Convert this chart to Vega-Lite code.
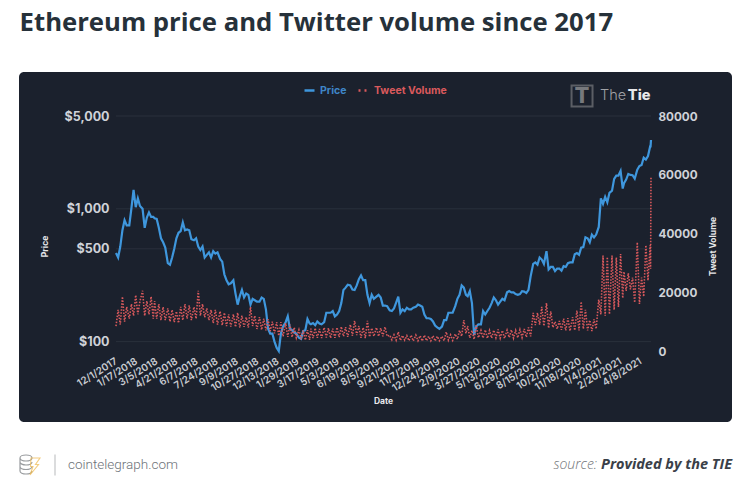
{
"$schema":"https://vega.github.io/schema/vega-lite/v6.json",
"background":"#ffffff",
"padding":{"left":17,"top":10,"right":20,"bottom":0},
"title":{"text":"Ethereum price and Twitter volume since 2017","anchor":"start","dx":2,"font":"Open Sans","fontSize":25.7,"fontWeight":700,"color":"#26313a","offset":35},
"spacing":23,
"config":{"view":{"stroke":null}},
"datasets":{
"grid":[{"d":"2017-12-01","e":"2021-05-03","p":100},{"d":"2017-12-01","e":"2021-05-03","p":500},{"d":"2017-12-01","e":"2021-05-03","p":1000},{"d":"2017-12-01","e":"2021-05-03","p":5000}],
"series":[
{"d":"2017-12-01","p":465,"v":8500},{"d":"2017-12-06","p":430,"v":14000},{"d":"2017-12-11","p":520,"v":9000},{"d":"2017-12-16","p":690,"v":18500},{"d":"2017-12-21","p":820,"v":10000},{"d":"2017-12-26","p":750,"v":15000},
{"d":"2018-01-01","p":750,"v":11000},{"d":"2018-01-06","p":1010,"v":16000},{"d":"2018-01-11","p":1390,"v":12000},{"d":"2018-01-16","p":1030,"v":19000},{"d":"2018-01-21","p":1200,"v":12500},{"d":"2018-01-26","p":1050,"v":17000},
{"d":"2018-02-01","p":1000,"v":20500},{"d":"2018-02-06","p":720,"v":12000},{"d":"2018-02-11","p":860,"v":17000},{"d":"2018-02-16","p":940,"v":12500},{"d":"2018-02-21","p":870,"v":18500},{"d":"2018-02-26","p":870,"v":11000},
{"d":"2018-03-01","p":850,"v":17000},{"d":"2018-03-06","p":840,"v":11000},{"d":"2018-03-11","p":720,"v":16000},{"d":"2018-03-16","p":600,"v":10500},{"d":"2018-03-21","p":560,"v":15000},{"d":"2018-03-26","p":510,"v":10500},
{"d":"2018-04-01","p":390,"v":14500},{"d":"2018-04-06","p":380,"v":10000},{"d":"2018-04-11","p":430,"v":14000},{"d":"2018-04-16","p":500,"v":9800},{"d":"2018-04-21","p":600,"v":13500},{"d":"2018-04-26","p":660,"v":9500},
{"d":"2018-05-01","p":680,"v":15000},{"d":"2018-05-06","p":790,"v":10500},{"d":"2018-05-11","p":690,"v":16000},{"d":"2018-05-16","p":700,"v":11000},{"d":"2018-05-21","p":690,"v":15500},{"d":"2018-05-26","p":590,"v":10500},
{"d":"2018-06-01","p":580,"v":15000},{"d":"2018-06-06","p":600,"v":11000},{"d":"2018-06-11","p":520,"v":20500},{"d":"2018-06-16","p":490,"v":12000},{"d":"2018-06-21","p":520,"v":16000},{"d":"2018-06-26","p":430,"v":11500},
{"d":"2018-07-01","p":450,"v":14500},{"d":"2018-07-06","p":470,"v":10500},{"d":"2018-07-11","p":430,"v":14000},{"d":"2018-07-16","p":480,"v":9500},{"d":"2018-07-21","p":460,"v":14000},{"d":"2018-07-26","p":470,"v":9000},
{"d":"2018-08-01","p":420,"v":13500},{"d":"2018-08-06","p":400,"v":8800},{"d":"2018-08-11","p":320,"v":13000},{"d":"2018-08-16","p":290,"v":8500},{"d":"2018-08-21","p":270,"v":12500},{"d":"2018-08-26","p":275,"v":8300},
{"d":"2018-09-01","p":290,"v":12500},{"d":"2018-09-06","p":230,"v":8200},{"d":"2018-09-11","p":190,"v":13000},{"d":"2018-09-16","p":220,"v":8000},{"d":"2018-09-21","p":245,"v":12000},{"d":"2018-09-26","p":215,"v":8200},
{"d":"2018-10-01","p":230,"v":11500},{"d":"2018-10-06","p":225,"v":8000},{"d":"2018-10-11","p":190,"v":15000},{"d":"2018-10-16","p":210,"v":8500},{"d":"2018-10-21","p":205,"v":12000},{"d":"2018-10-26","p":200,"v":7500},
{"d":"2018-11-01","p":200,"v":11500},{"d":"2018-11-06","p":215,"v":7200},{"d":"2018-11-11","p":210,"v":11000},{"d":"2018-11-16","p":175,"v":7000},{"d":"2018-11-21","p":125,"v":10800},{"d":"2018-11-26","p":115,"v":6800},
{"d":"2018-12-01","p":115,"v":10000},{"d":"2018-12-06","p":100,"v":6000},{"d":"2018-12-11","p":90,"v":9800},{"d":"2018-12-16","p":85,"v":5200},{"d":"2018-12-21","p":115,"v":9800},{"d":"2018-12-26","p":130,"v":5000},
{"d":"2019-01-01","p":140,"v":9500},{"d":"2019-01-06","p":155,"v":4800},{"d":"2019-01-11","p":125,"v":9000},{"d":"2019-01-16","p":122,"v":4700},{"d":"2019-01-21","p":117,"v":8000},{"d":"2019-01-26","p":115,"v":4500},
{"d":"2019-02-01","p":107,"v":7200},{"d":"2019-02-06","p":105,"v":4000},{"d":"2019-02-11","p":120,"v":7000},{"d":"2019-02-16","p":122,"v":3700},{"d":"2019-02-21","p":148,"v":7100},{"d":"2019-02-26","p":137,"v":3800},
{"d":"2019-03-01","p":135,"v":7600},{"d":"2019-03-06","p":138,"v":4400},{"d":"2019-03-11","p":133,"v":7800},{"d":"2019-03-16","p":142,"v":4500},{"d":"2019-03-21","p":137,"v":7500},{"d":"2019-03-26","p":135,"v":4400},
{"d":"2019-04-01","p":140,"v":8000},{"d":"2019-04-06","p":165,"v":4600},{"d":"2019-04-11","p":165,"v":7800},{"d":"2019-04-16","p":165,"v":4400},{"d":"2019-04-21","p":170,"v":7600},{"d":"2019-04-26","p":155,"v":4500},
{"d":"2019-05-01","p":160,"v":8000},{"d":"2019-05-06","p":170,"v":4700},{"d":"2019-05-11","p":195,"v":8300},{"d":"2019-05-16","p":245,"v":5000},{"d":"2019-05-21","p":255,"v":8100},{"d":"2019-05-26","p":268,"v":4800},
{"d":"2019-06-01","p":265,"v":9000},{"d":"2019-06-06","p":247,"v":5200},{"d":"2019-06-11","p":245,"v":10300},{"d":"2019-06-16","p":265,"v":5400},{"d":"2019-06-21","p":295,"v":8500},{"d":"2019-06-26","p":315,"v":4500},
{"d":"2019-07-01","p":290,"v":8000},{"d":"2019-07-06","p":290,"v":4400},{"d":"2019-07-11","p":225,"v":10300},{"d":"2019-07-16","p":195,"v":4800},{"d":"2019-07-21","p":225,"v":7800},{"d":"2019-07-26","p":210,"v":5000},
{"d":"2019-08-01","p":218,"v":8000},{"d":"2019-08-06","p":225,"v":5000},{"d":"2019-08-11","p":215,"v":7800},{"d":"2019-08-16","p":187,"v":5000},{"d":"2019-08-21","p":187,"v":8200},{"d":"2019-08-26","p":185,"v":5000},
{"d":"2019-09-01","p":172,"v":5400},{"d":"2019-09-06","p":170,"v":3800},{"d":"2019-09-11","p":178,"v":5500},{"d":"2019-09-16","p":197,"v":3700},{"d":"2019-09-21","p":218,"v":6500},{"d":"2019-09-26","p":165,"v":3600},
{"d":"2019-10-01","p":175,"v":5300},{"d":"2019-10-06","p":170,"v":3700},{"d":"2019-10-11","p":180,"v":5200},{"d":"2019-10-16","p":175,"v":3500},{"d":"2019-10-21","p":175,"v":5400},{"d":"2019-10-26","p":180,"v":3400},
{"d":"2019-11-01","p":183,"v":5400},{"d":"2019-11-06","p":190,"v":3500},{"d":"2019-11-11","p":187,"v":5200},{"d":"2019-11-16","p":183,"v":3400},{"d":"2019-11-21","p":160,"v":5400},{"d":"2019-11-26","p":150,"v":3500},
{"d":"2019-12-01","p":150,"v":5000},{"d":"2019-12-06","p":148,"v":3500},{"d":"2019-12-11","p":142,"v":5200},{"d":"2019-12-16","p":132,"v":3400},{"d":"2019-12-21","p":128,"v":5000},{"d":"2019-12-26","p":125,"v":3500},
{"d":"2020-01-01","p":130,"v":5000},{"d":"2020-01-06","p":145,"v":3500},{"d":"2020-01-11","p":145,"v":6500},{"d":"2020-01-16","p":165,"v":3700},{"d":"2020-01-21","p":165,"v":5500},{"d":"2020-01-26","p":165,"v":3600},
{"d":"2020-02-01","p":185,"v":5800},{"d":"2020-02-06","p":210,"v":4000},{"d":"2020-02-11","p":225,"v":7000},{"d":"2020-02-16","p":265,"v":5000},{"d":"2020-02-21","p":255,"v":10500},{"d":"2020-02-26","p":225,"v":6000},
{"d":"2020-03-01","p":220,"v":8500},{"d":"2020-03-06","p":240,"v":4500},{"d":"2020-03-11","p":195,"v":7000},{"d":"2020-03-16","p":112,"v":4000},{"d":"2020-03-21","p":130,"v":8800},{"d":"2020-03-26","p":135,"v":4500},
{"d":"2020-04-01","p":135,"v":7000},{"d":"2020-04-06","p":170,"v":4400},{"d":"2020-04-11","p":160,"v":7200},{"d":"2020-04-16","p":170,"v":4300},{"d":"2020-04-21","p":180,"v":7000},{"d":"2020-04-26","p":195,"v":4400},
{"d":"2020-05-01","p":215,"v":7100},{"d":"2020-05-06","p":205,"v":4500},{"d":"2020-05-11","p":190,"v":7300},{"d":"2020-05-16","p":200,"v":4400},{"d":"2020-05-21","p":210,"v":7000},{"d":"2020-05-26","p":205,"v":4300},
{"d":"2020-06-01","p":235,"v":7100},{"d":"2020-06-06","p":240,"v":4600},{"d":"2020-06-11","p":235,"v":7200},{"d":"2020-06-16","p":235,"v":4400},{"d":"2020-06-21","p":228,"v":7000},{"d":"2020-06-26","p":225,"v":4500},
{"d":"2020-07-01","p":228,"v":7300},{"d":"2020-07-06","p":240,"v":4600},{"d":"2020-07-11","p":238,"v":7500},{"d":"2020-07-16","p":232,"v":4700},{"d":"2020-07-21","p":245,"v":8000},{"d":"2020-07-26","p":310,"v":5000},
{"d":"2020-08-01","p":385,"v":13000},{"d":"2020-08-06","p":395,"v":8800},{"d":"2020-08-11","p":380,"v":13000},{"d":"2020-08-16","p":430,"v":9000},{"d":"2020-08-21","p":415,"v":15000},{"d":"2020-08-26","p":385,"v":8500},
{"d":"2020-09-01","p":480,"v":16300},{"d":"2020-09-06","p":350,"v":7800},{"d":"2020-09-11","p":365,"v":13500},{"d":"2020-09-16","p":365,"v":8000},{"d":"2020-09-21","p":340,"v":10000},{"d":"2020-09-26","p":355,"v":7500},
{"d":"2020-10-01","p":355,"v":10200},{"d":"2020-10-06","p":342,"v":7200},{"d":"2020-10-11","p":370,"v":11000},{"d":"2020-10-16","p":365,"v":7000},{"d":"2020-10-21","p":390,"v":11200},{"d":"2020-10-26","p":395,"v":6800},
{"d":"2020-11-01","p":395,"v":11500},{"d":"2020-11-06","p":455,"v":7000},{"d":"2020-11-11","p":465,"v":13800},{"d":"2020-11-16","p":450,"v":7000},{"d":"2020-11-21","p":510,"v":16800},{"d":"2020-11-26","p":515,"v":7500},
{"d":"2020-12-01","p":610,"v":14000},{"d":"2020-12-06","p":600,"v":7000},{"d":"2020-12-11","p":560,"v":10500},{"d":"2020-12-16","p":640,"v":6800},{"d":"2020-12-21","p":610,"v":10800},{"d":"2020-12-26","p":640,"v":7500},
{"d":"2021-01-01","p":730,"v":17500},{"d":"2021-01-06","p":1200,"v":12500},{"d":"2021-01-11","p":1090,"v":32500},{"d":"2021-01-16","p":1230,"v":12000},{"d":"2021-01-21","p":1120,"v":32000},{"d":"2021-01-26","p":1320,"v":12500},
{"d":"2021-02-01","p":1370,"v":32500},{"d":"2021-02-06","p":1680,"v":14000},{"d":"2021-02-11","p":1780,"v":31800},{"d":"2021-02-16","p":1780,"v":15000},{"d":"2021-02-21","p":1930,"v":33000},{"d":"2021-02-26","p":1420,"v":18000},
{"d":"2021-03-01","p":1560,"v":27000},{"d":"2021-03-06","p":1660,"v":20500},{"d":"2021-03-11","p":1830,"v":26500},{"d":"2021-03-16","p":1800,"v":21000},{"d":"2021-03-21","p":1790,"v":25000},{"d":"2021-03-26","p":1690,"v":16500},
{"d":"2021-04-01","p":1970,"v":37000},{"d":"2021-04-06","p":2100,"v":16000},{"d":"2021-04-11","p":2140,"v":25000},{"d":"2021-04-16","p":2430,"v":18500},{"d":"2021-04-21","p":2350,"v":36000},{"d":"2021-04-26","p":2500,"v":24000},
{"d":"2021-05-01","p":2950,"v":36000},{"d":"2021-05-02","p":2950,"v":28000},{"d":"2021-05-03","p":3300,"v":59000}
]
},
"vconcat":[
{
"width":713,"height":350,
"view":{"fill":"#1b212d","stroke":null,"cornerRadius":5},
"encoding":{
"x":{"field":"d","type":"temporal","title":"Date",
"scale":{"type":"utc","domain":["2017-12-01","2021-05-03"],"range":[97,632]},
"axis":{"orient":"bottom","offset":-71,"grid":false,"domain":false,"ticks":false,
"values":["2017-12-01","2018-01-17","2018-03-05","2018-04-21","2018-06-07","2018-07-24","2018-09-09","2018-10-27","2018-12-13","2019-01-29","2019-03-17","2019-05-03","2019-06-19","2019-08-05","2019-09-21","2019-11-07","2019-12-24","2020-02-09","2020-03-27","2020-05-13","2020-06-29","2020-08-15","2020-10-02","2020-11-18","2021-01-04","2021-02-20","2021-04-08"],
"labelExpr":"utcFormat(datum.value,'%-m/%-d/%Y')",
"labelAngle":-32,"labelAlign":"right","labelBaseline":"middle","labelPadding":9,"labelFont":"Inter","labelFontSize":10,"labelFontWeight":600,"labelColor":"#c9ccd2","labelOverlap":false,"labelBound":false,"labelFlush":false,
"titleFont":"Inter","titleFontSize":8.5,"titleFontWeight":700,"titleColor":"#e8e8ea","titleX":364,"titleY":49,"titleAlign":"center","titleBaseline":"middle"}}
},
"layer":[
{"layer":[
{"data":{"name":"grid"},"mark":{"type":"rule","color":"#2a303c","strokeWidth":1},
"encoding":{"x2":{"field":"e"},"y":{"field":"p","type":"quantitative"}}},
{"data":{"name":"series"},"mark":{"type":"line","strokeWidth":2.2,"interpolate":"linear","clip":false},
"encoding":{"y":{"field":"p","type":"quantitative","title":"Price",
"scale":{"type":"log","nice":false,"domain":[85,5000],"range":[279,44]},
"axis":{"orient":"left","offset":-90,"values":[100,500,1000,5000],"labelExpr":"'$'+format(datum.value,',')","grid":false,"domain":false,"ticks":false,"labelPadding":0,"labelFont":"Inter","labelFontSize":12.5,"labelFontWeight":700,"labelColor":"#cfd2d8","titleFont":"Inter","titleFontSize":8.5,"titleFontWeight":700,"titleColor":"#e8e8ea","titleX":-65,"titleY":174,"titleAngle":-90,"titleAlign":"center","titleBaseline":"middle"}},
"color":{"datum":"Price","type":"nominal","scale":{"domain":["Price","Tweet Volume"],"range":["#3f97dd","#d9595c"]},
"legend":{"orient":"none","legendX":284,"legendY":12,"direction":"horizontal","title":null,"symbolType":"stroke","symbolSize":100,"symbolStrokeWidth":2.5,"labelFont":"Inter","labelFontSize":10.5,"labelFontWeight":700,"columnPadding":6,"labelOffset":4,
"encode":{"labels":{"update":{"fill":{"signal":"datum.value==='Price'?'#3f86c8':'#d9595c'"}}},"symbols":{"update":{"strokeDash":{"signal":"datum.value==='Price'?[1,0]:[2,4]"}}}}}}}},
{"data":{"values":[{"d":"2020-11-23","p":7080}]},"mark":{"type":"point","shape":"square","size":440,"filled":false,"stroke":"#77797d","strokeWidth":2,"clip":false},"encoding":{"y":{"field":"p","type":"quantitative"}}},
{"data":{"values":[{"d":"2020-11-23","p":7080,"t":"T"}]},"mark":{"type":"text","font":"Inter","fontSize":22,"fontWeight":800,"color":"#77797d","clip":false},"encoding":{"y":{"field":"p","type":"quantitative"},"text":{"field":"t"}}},
{"data":{"values":[{"d":"2021-01-04","p":7080,"t":"The"}]},"mark":{"type":"text","font":"Inter","fontSize":14.5,"fontWeight":300,"align":"left","color":"#a0a2a6","clip":false},"encoding":{"y":{"field":"p","type":"quantitative"},"text":{"field":"t"}}},
{"data":{"values":[{"d":"2021-03-10","p":7080,"t":"Tie"}]},"mark":{"type":"text","font":"Inter","fontSize":14.5,"fontWeight":800,"align":"left","color":"#e8e8ea","clip":false},"encoding":{"y":{"field":"p","type":"quantitative"},"text":{"field":"t"}}}
]},
{"data":{"name":"series"},"mark":{"type":"line","strokeWidth":1.6,"strokeDash":[1.5,1.5],"clip":false},
"encoding":{"y":{"field":"v","type":"quantitative","title":"Tweet Volume",
"scale":{"domain":[0,80000],"range":[279,44]},
"axis":{"orient":"right","offset":-74,"values":[0,20000,40000,60000,80000],"format":"d","grid":false,"domain":false,"ticks":false,"labelPadding":0,"labelFont":"Inter","labelFontSize":11.7,"labelFontWeight":700,"labelColor":"#cfd2d8","titleFont":"Inter","titleFontSize":8.5,"titleFontWeight":700,"titleColor":"#e8e8ea","titleX":54,"titleY":174,"titleAngle":-90,"titleAlign":"center","titleBaseline":"middle"}},
"color":{"datum":"Tweet Volume","type":"nominal"}}}
],
"resolve":{"scale":{"y":"independent"},"axis":{"y":"independent"}}
},
{
"width":713,"height":40,
"view":{"fill":null,"stroke":null},
"encoding":{"x":{"field":"side","type":"nominal","scale":{"type":"point","padding":0,"domain":["left","right"],"range":[49,713]},"axis":null}},
"layer":[
{"data":{"values":[{"side":"left"}]},"mark":{"type":"point","shape":"M0,-1L0,1","size":441,"filled":false,"stroke":"#9a9da1","strokeWidth":1,"xOffset":-13}},
{"data":{"values":[{"side":"left"}]},"mark":{"type":"point","shape":"M-1,-0.7A0.6,0.3,0,1,1,0.2,-0.7A0.6,0.3,0,1,1,-1,-0.7M-1,-0.7L-1,0.6A0.6,0.3,0,0,0,0.2,0.6M-1,-0.3A0.6,0.3,0,0,0,0.2,-0.3M-1,0.15A0.6,0.3,0,0,0,0.2,0.15","size":400,"filled":false,"stroke":"#6f7377","strokeWidth":1.2,"xOffset":-38}},
{"data":{"values":[{"side":"left"}]},"mark":{"type":"point","shape":"M0.1,-0.7L1,-0.7L0.55,-0.05L0.85,-0.05L0,1L0.3,0.15L0.05,0.15Z","size":400,"filled":false,"stroke":"#efb84a","strokeWidth":1.1,"xOffset":-38}},
{"data":{"values":[{"side":"left","t":"cointelegraph.com"}]},"mark":{"type":"text","align":"left","font":"Roboto","fontSize":13.5,"fontWeight":300,"color":"#6d7278"},"encoding":{"text":{"field":"t"}}},
{"data":{"values":[{"side":"right","t":"source:"}]},"mark":{"type":"text","align":"right","dx":-135,"font":"Open Sans","fontSize":14,"fontStyle":"italic","fontWeight":300,"color":"#6f7276"},"encoding":{"text":{"field":"t"}}},
{"data":{"values":[{"side":"right","t":"Provided by the TIE"}]},"mark":{"type":"text","align":"right","font":"Open Sans","fontSize":14.5,"fontStyle":"italic","fontWeight":700,"color":"#3a4048"},"encoding":{"text":{"field":"t"}}}
]
}
]
}
